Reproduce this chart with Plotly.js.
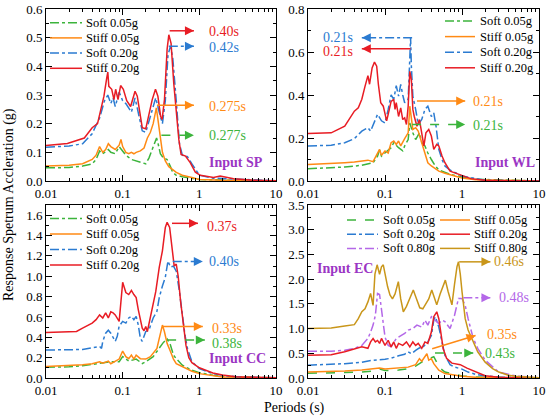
<!DOCTYPE html>
<html><head><meta charset="utf-8">
<script src="https://cdn.plot.ly/plotly-3.0.1.min.js"></script>
<style>html,body{margin:0;padding:0;background:#fff}#chart{width:550px;height:419px}</style>
</head><body><div id="chart"></div>
<script>
// ---------------- Input SP ----------------
const SP_T_soft005 = [0.01,0.02,0.03,0.04,0.045,0.05,0.055,0.065,0.07,0.08,0.09,0.1,0.11,0.13,0.15,0.18,0.2,0.22,0.25,0.277,0.29,0.31,0.34,0.38,0.42,0.45,0.5,0.6,1,10];
const SP_Sa_soft005 = [0.046,0.047,0.052,0.06,0.075,0.105,0.095,0.11,0.10,0.095,0.12,0.105,0.09,0.075,0.07,0.065,0.06,0.08,0.12,0.15,0.13,0.095,0.08,0.075,0.05,0.03,0.02,0.015,0.005,0];
const SP_T_stiff005 = [0.01,0.02,0.03,0.04,0.045,0.05,0.055,0.06,0.065,0.07,0.08,0.09,0.095,0.1,0.11,0.12,0.13,0.14,0.15,0.17,0.19,0.21,0.23,0.25,0.275,0.29,0.31,0.33,0.36,0.4,0.5,0.6,0.8,1,2,10];
const SP_Sa_stiff005 = [0.052,0.055,0.06,0.075,0.09,0.12,0.10,0.11,0.13,0.12,0.11,0.125,0.145,0.12,0.10,0.095,0.10,0.095,0.10,0.105,0.115,0.15,0.17,0.20,0.255,0.21,0.15,0.10,0.07,0.05,0.03,0.02,0.012,0.005,0.003,0];
const SP_T_soft020 = [0.01,0.02,0.03,0.04,0.05,0.058,0.064,0.07,0.075,0.08,0.09,0.1,0.11,0.13,0.145,0.16,0.18,0.2,0.22,0.25,0.27,0.3,0.33,0.36,0.39,0.42,0.45,0.5,0.55,0.6,0.7,0.8,1.0,1.5,3,10];
const SP_Sa_soft020 = [0.118,0.122,0.13,0.165,0.22,0.28,0.30,0.27,0.29,0.26,0.31,0.28,0.27,0.24,0.29,0.24,0.175,0.17,0.21,0.26,0.29,0.24,0.20,0.28,0.44,0.47,0.43,0.28,0.13,0.09,0.085,0.06,0.02,0.01,0.006,0.001];
const SP_T_stiff020 = [0.01,0.019,0.0316,0.04,0.047,0.052,0.057,0.062,0.064,0.066,0.072,0.077,0.081,0.087,0.094,0.102,0.113,0.127,0.145,0.155,0.168,0.18,0.2,0.22,0.243,0.268,0.288,0.312,0.327,0.351,0.38,0.40,0.428,0.464,0.50,0.54,0.578,0.66,0.76,0.887,1.03,1.53,1.87,2.8,5.1,10];
const SP_Sa_stiff020 = [0.124,0.131,0.15,0.186,0.2,0.25,0.296,0.36,0.38,0.33,0.32,0.284,0.32,0.284,0.333,0.32,0.28,0.26,0.313,0.296,0.238,0.186,0.182,0.238,0.284,0.32,0.296,0.226,0.215,0.284,0.46,0.51,0.48,0.34,0.25,0.145,0.093,0.087,0.064,0.031,0.02,0.012,0.017,0.008,0.003,0.001];

// ---------------- Input WL ----------------
const WL_T_soft005 = [0.01,0.02,0.03,0.05,0.07,0.08,0.085,0.09,0.1,0.12,0.13,0.15,0.17,0.18,0.2,0.21,0.23,0.25,0.28,0.3,0.33,0.36,0.4,0.45,0.5,0.7,1,1.5,10];
const WL_Sa_soft005 = [0.057,0.06,0.065,0.073,0.085,0.116,0.144,0.116,0.13,0.155,0.178,0.155,0.14,0.163,0.193,0.27,0.224,0.193,0.224,0.178,0.163,0.13,0.10,0.07,0.051,0.031,0.019,0.008,0];
const WL_T_stiff005 = [0.01,0.02,0.03,0.04,0.05,0.06,0.07,0.08,0.085,0.09,0.1,0.11,0.12,0.13,0.14,0.15,0.16,0.18,0.2,0.21,0.22,0.23,0.25,0.27,0.3,0.33,0.36,0.4,0.5,0.6,0.8,1,1.5,10];
const WL_Sa_stiff005 = [0.077,0.08,0.085,0.088,0.094,0.097,0.09,0.13,0.147,0.12,0.14,0.13,0.178,0.186,0.17,0.186,0.163,0.197,0.224,0.348,0.294,0.24,0.248,0.232,0.178,0.13,0.085,0.07,0.046,0.036,0.023,0.014,0.006,0];
const WL_T_soft020 = [0.01,0.02,0.03,0.04,0.05,0.06,0.065,0.07,0.08,0.09,0.1,0.11,0.12,0.13,0.14,0.15,0.16,0.17,0.18,0.2,0.21,0.215,0.22,0.23,0.25,0.27,0.3,0.33,0.36,0.4,0.43,0.46,0.5,0.55,0.6,0.7,1,2,10];
const WL_Sa_soft020 = [0.163,0.166,0.178,0.197,0.232,0.248,0.232,0.263,0.31,0.28,0.27,0.333,0.40,0.38,0.444,0.395,0.449,0.40,0.364,0.38,0.64,0.666,0.534,0.395,0.333,0.263,0.286,0.333,0.348,0.30,0.317,0.255,0.147,0.10,0.07,0.051,0.023,0.003,0];
const WL_T_stiff020 = [0.01,0.02,0.03,0.04,0.045,0.05,0.055,0.06,0.063,0.068,0.073,0.078,0.082,0.088,0.095,0.1,0.105,0.11,0.12,0.13,0.135,0.14,0.15,0.16,0.17,0.18,0.19,0.2,0.21,0.22,0.23,0.24,0.26,0.28,0.3,0.32,0.34,0.37,0.4,0.43,0.47,0.5,0.55,0.6,0.7,0.8,1.0,1.3,2,10];
const WL_Sa_stiff020 = [0.221,0.224,0.255,0.325,0.34,0.38,0.44,0.49,0.45,0.526,0.553,0.534,0.45,0.364,0.348,0.31,0.28,0.31,0.37,0.38,0.333,0.364,0.30,0.34,0.286,0.294,0.263,0.348,0.51,0.47,0.333,0.30,0.255,0.286,0.224,0.163,0.224,0.24,0.209,0.147,0.17,0.163,0.116,0.085,0.046,0.039,0.026,0.011,0.003,0];

// ---------------- Input CC ----------------
const CC_T_soft005 = [0.01,0.02,0.03,0.05,0.07,0.09,0.1,0.12,0.15,0.18,0.2,0.25,0.3,0.34,0.38,0.42,0.46,0.5,0.6,0.8,1,1.5,2,10];
const CC_Sa_soft005 = [0.106,0.11,0.12,0.14,0.16,0.16,0.21,0.166,0.186,0.142,0.16,0.21,0.29,0.35,0.384,0.325,0.225,0.19,0.126,0.076,0.053,0.026,0.016,0.001];
const CC_T_stiff005 = [0.01,0.02,0.03,0.04,0.05,0.055,0.065,0.07,0.08,0.09,0.1,0.11,0.12,0.13,0.14,0.15,0.17,0.2,0.23,0.26,0.28,0.3,0.33,0.35,0.38,0.42,0.46,0.5,0.6,0.8,1,1.5,2,10];
const CC_Sa_stiff005 = [0.113,0.12,0.13,0.14,0.16,0.146,0.166,0.14,0.166,0.186,0.265,0.21,0.19,0.225,0.186,0.225,0.19,0.186,0.21,0.26,0.29,0.39,0.52,0.457,0.34,0.26,0.186,0.142,0.11,0.066,0.043,0.02,0.01,0.001];
const CC_T_soft020 = [0.01,0.02,0.03,0.04,0.05,0.053,0.055,0.06,0.065,0.07,0.075,0.08,0.085,0.09,0.1,0.11,0.12,0.13,0.14,0.15,0.16,0.17,0.18,0.2,0.22,0.25,0.28,0.3,0.33,0.36,0.39,0.42,0.46,0.5,0.55,0.6,0.65,0.7,0.8,1,1.5,2,3,10];
const CC_Sa_soft020 = [0.275,0.275,0.28,0.298,0.31,0.29,0.36,0.44,0.47,0.44,0.39,0.36,0.41,0.51,0.556,0.54,0.59,0.606,0.573,0.606,0.52,0.39,0.36,0.457,0.47,0.59,0.656,0.79,0.904,0.99,1.15,1.09,1.10,1.05,0.85,0.6,0.42,0.29,0.16,0.093,0.043,0.026,0.013,0.002];
const CC_T_stiff020 = [0.01,0.02,0.025,0.03,0.04,0.045,0.05,0.055,0.06,0.065,0.07,0.075,0.08,0.09,0.095,0.1,0.105,0.11,0.12,0.13,0.14,0.15,0.16,0.17,0.18,0.19,0.2,0.21,0.23,0.25,0.27,0.3,0.33,0.36,0.38,0.41,0.44,0.47,0.5,0.53,0.57,0.62,0.67,0.73,0.8,1,1.5,2,3,5,10];
const CC_Sa_stiff020 = [0.447,0.457,0.457,0.49,0.54,0.573,0.62,0.59,0.64,0.59,0.65,0.64,0.62,0.556,0.72,0.94,0.89,0.84,0.82,0.86,0.82,0.79,0.67,0.573,0.49,0.464,0.507,0.457,0.606,0.755,0.848,1.086,1.25,1.48,1.53,1.48,1.25,1.1,1.12,1.0,0.75,0.5,0.32,0.2,0.15,0.1,0.05,0.03,0.013,0.007,0.002];

// ---------------- Input EC ----------------
const EC_T_soft005 = [0.01,0.02,0.03,0.05,0.07,0.085,0.1,0.15,0.2,0.25,0.3,0.35,0.4,0.43,0.47,0.5,0.6,0.8,1,1.5,10];
const EC_Sa_soft005 = [0.095,0.1,0.11,0.12,0.14,0.18,0.15,0.16,0.19,0.24,0.32,0.38,0.41,0.43,0.32,0.22,0.12,0.068,0.04,0.02,0.001];
const EC_T_stiff005 = [0.01,0.02,0.03,0.05,0.07,0.085,0.1,0.12,0.15,0.2,0.25,0.28,0.3,0.33,0.35,0.37,0.4,0.43,0.47,0.5,0.6,0.8,1,1.5,10];
const EC_Sa_stiff005 = [0.12,0.13,0.14,0.16,0.18,0.2,0.18,0.19,0.2,0.22,0.27,0.39,0.34,0.43,0.49,0.36,0.39,0.29,0.22,0.16,0.09,0.054,0.034,0.014,0.001];
const EC_T_soft020 = [0.01,0.02,0.03,0.05,0.07,0.1,0.12,0.15,0.18,0.2,0.22,0.25,0.28,0.3,0.33,0.36,0.4,0.43,0.45,0.5,0.55,0.6,0.7,0.8,1.0,1.2,1.5,2,3,10];
const EC_Sa_soft020 = [0.26,0.27,0.29,0.32,0.36,0.38,0.4,0.45,0.48,0.53,0.49,0.56,0.61,0.6,0.66,0.73,0.86,1.17,1.24,1.03,0.73,0.46,0.27,0.22,0.18,0.12,0.074,0.04,0.02,0.002];
const EC_T_stiff020 = [0.01,0.02,0.03,0.04,0.05,0.06,0.065,0.07,0.075,0.08,0.085,0.09,0.1,0.11,0.12,0.13,0.14,0.15,0.17,0.19,0.21,0.23,0.25,0.27,0.3,0.33,0.36,0.4,0.43,0.47,0.5,0.57,0.63,0.74,0.95,1.16,1.6,2,3,10];
const EC_Sa_stiff020 = [0.46,0.47,0.53,0.58,0.63,0.6,0.73,0.8,0.73,0.76,0.7,0.8,0.66,0.76,0.63,0.73,0.6,0.7,0.66,0.73,0.63,0.73,0.66,0.7,0.6,0.73,0.7,0.93,1.24,1.34,1.2,0.59,0.4,0.3,0.27,0.2,0.1,0.045,0.014,0.002];
const EC_T_soft080 = [0.01,0.02,0.03,0.04,0.05,0.06,0.065,0.07,0.075,0.08,0.085,0.09,0.1,0.11,0.12,0.14,0.16,0.18,0.2,0.23,0.26,0.3,0.33,0.36,0.4,0.45,0.5,0.55,0.6,0.7,0.8,0.9,1.0,1.1,1.2,1.4,1.6,2,3,5,10];
const EC_Sa_soft080 = [0.54,0.54,0.56,0.6,0.66,0.8,0.93,1.07,1.27,1.71,1.69,1.34,0.83,0.66,0.63,0.8,0.86,0.9,0.97,1.0,1.07,1.03,1.17,1.07,1.24,1.17,1.1,1.17,1.14,1.0,1.27,1.61,1.61,1.47,1.2,0.8,0.6,0.36,0.12,0.04,0.005];
const EC_T_stiff080 = [0.01,0.02,0.03,0.04,0.045,0.05,0.055,0.06,0.065,0.07,0.074,0.079,0.085,0.09,0.095,0.1,0.108,0.116,0.125,0.135,0.149,0.16,0.173,0.19,0.21,0.233,0.25,0.283,0.31,0.34,0.37,0.405,0.44,0.47,0.52,0.56,0.608,0.66,0.74,0.8,0.86,0.9,0.95,1.0,1.05,1.1,1.2,1.4,1.6,2,2.5,3,4,5,10];
const EC_Sa_stiff080 = [1.0,1.01,1.05,1.08,1.2,1.34,1.4,1.54,1.71,1.47,2.1,2.29,2.1,2.25,2.29,2.1,1.85,1.68,1.6,1.7,1.95,1.6,1.34,1.45,1.6,1.78,1.65,1.42,1.4,1.5,1.6,1.78,1.6,1.48,1.7,1.85,1.98,1.75,1.48,1.9,2.25,2.35,2.1,1.75,1.45,1.2,0.97,0.73,0.53,0.32,0.19,0.12,0.054,0.034,0.005];

const xTickVals = [0.01,0.1,1,10];
const xTickText = ['0.01','0.1','1','10'];

// ---------------- styling ----------------
const C = {g:'#3cb43c', o:'#ff8a14', b:'#2b7bd1', r:'#e81c24', p:'#b468e8', y:'#c9961a', lab:'#9b36c4'};
const FONT = 'Liberation Serif';

const minorLog = [];
for (let e = -2; e < 1; e++) for (let k = 2; k <= 9; k++) minorLog.push(k * Math.pow(10, e));

function tr(T, Sa, name, color, dash, xa, ya, leg) {
  return {x: T, y: Sa, name: name, type: 'scatter', mode: 'lines', xaxis: xa, yaxis: ya,
    meta: leg, showlegend: false, line: {color: color, width: 1.5, dash: dash}, hoverinfo: 'skip'};
}
const data = [
  tr(SP_T_soft005, SP_Sa_soft005, 'Soft 0.05g', C.g, 'dashdot', 'x', 'y', 'SP'),
  tr(SP_T_stiff005, SP_Sa_stiff005, 'Stiff 0.05g', C.o, 'solid', 'x', 'y', 'SP'),
  tr(SP_T_soft020, SP_Sa_soft020, 'Soft 0.20g', C.b, 'dashdot', 'x', 'y', 'SP'),
  tr(SP_T_stiff020, SP_Sa_stiff020, 'Stiff 0.20g', C.r, 'solid', 'x', 'y', 'SP'),
  tr(WL_T_soft005, WL_Sa_soft005, 'Soft 0.05g', C.g, 'dashdot', 'x2', 'y2', 'WL'),
  tr(WL_T_stiff005, WL_Sa_stiff005, 'Stiff 0.05g', C.o, 'solid', 'x2', 'y2', 'WL'),
  tr(WL_T_soft020, WL_Sa_soft020, 'Soft 0.20g', C.b, 'dashdot', 'x2', 'y2', 'WL'),
  tr(WL_T_stiff020, WL_Sa_stiff020, 'Stiff 0.20g', C.r, 'solid', 'x2', 'y2', 'WL'),
  tr(CC_T_soft005, CC_Sa_soft005, 'Soft 0.05g', C.g, 'dashdot', 'x3', 'y3', 'CC'),
  tr(CC_T_stiff005, CC_Sa_stiff005, 'Stiff 0.05g', C.o, 'solid', 'x3', 'y3', 'CC'),
  tr(CC_T_soft020, CC_Sa_soft020, 'Soft 0.20g', C.b, 'dashdot', 'x3', 'y3', 'CC'),
  tr(CC_T_stiff020, CC_Sa_stiff020, 'Stiff 0.20g', C.r, 'solid', 'x3', 'y3', 'CC'),
  tr(EC_T_soft005, EC_Sa_soft005, 'Soft 0.05g', C.g, 'dash', 'x4', 'y4', 'EC1'),
  tr(EC_T_soft020, EC_Sa_soft020, 'Soft 0.20g', C.b, 'dashdot', 'x4', 'y4', 'EC1'),
  tr(EC_T_soft080, EC_Sa_soft080, 'Soft 0.80g', C.p, 'dashdot', 'x4', 'y4', 'EC1'),
  tr(EC_T_stiff005, EC_Sa_stiff005, 'Stiff 0.05g', C.o, 'solid', 'x4', 'y4', 'EC2'),
  tr(EC_T_stiff020, EC_Sa_stiff020, 'Stiff 0.20g', C.r, 'solid', 'x4', 'y4', 'EC2'),
  tr(EC_T_stiff080, EC_Sa_stiff080, 'Stiff 0.80g', C.y, 'solid', 'x4', 'y4', 'EC2')
];

const W = 550, H = 419;
const px = v => v / W, py = v => 1 - v / H;

function xax(dom, anchor) {
  return {type: 'log', range: [-2, 1], domain: dom, anchor: anchor,
    tickvals: xTickVals, ticktext: xTickText, ticks: 'inside', ticklen: 6, tickwidth: 1, tickcolor: '#000',
    showline: true, linecolor: '#000', linewidth: 1, mirror: 'ticks', showgrid: false, zeroline: false,
    tickfont: {family: FONT, size: 13, color: '#000'},
    minor: {tickvals: minorLog, ticks: 'inside', ticklen: 3, tickwidth: 1, tickcolor: '#000', showgrid: false}};
}
function yax(dom, anchor, top, dt) {
  return {range: [0, top], domain: dom, anchor: anchor, dtick: dt, tick0: 0, tickformat: '.1f',
    ticks: 'inside', ticklen: 6, tickwidth: 1, tickcolor: '#000',
    showline: true, linecolor: '#000', linewidth: 1, mirror: 'ticks', showgrid: false, zeroline: false,
    tickfont: {family: FONT, size: 13, color: '#000'},
    minor: {dtick: dt / 2, ticks: 'inside', ticklen: 3, tickwidth: 1, tickcolor: '#000', showgrid: false}};
}
const xL = [px(46), px(276)], xR = [px(308), px(539)];
const yT = [py(181), py(9)], yB = [py(378), py(205)];

const shapes = [], annotations = [];

// per-panel legend boxes (pixel placement of the key)
const legendBox = {
  SP:  {x0: 50, x1: 82, tx: 84, y0: 22.7, dy: 15.2},
  WL:  {x0: 445, x1: 475, tx: 478, y0: 21, dy: 15.6},
  CC:  {x0: 50, x1: 82, tx: 84, y0: 218.5, dy: 15.5},
  EC1: {x0: 347, x1: 378, tx: 381, y0: 220, dy: 14.2},
  EC2: {x0: 440, x1: 470, tx: 472, y0: 220, dy: 14.2}
};
const legendCount = {};
data.forEach(t => {
  const b = legendBox[t.meta];
  const i = legendCount[t.meta] = (legendCount[t.meta] || 0);
  legendCount[t.meta]++;
  const yy = b.y0 + i * b.dy;
  shapes.push({type: 'line', xref: 'paper', yref: 'paper', x0: px(b.x0), x1: px(b.x1), y0: py(yy), y1: py(yy),
    line: {color: t.line.color, width: 1.5, dash: t.line.dash}});
  annotations.push({xref: 'paper', yref: 'paper', x: px(b.tx), y: py(yy), text: t.name, showarrow: false,
    xanchor: 'left', yanchor: 'middle', font: {family: FONT, size: 12.5, color: '#000'}});
});

// callouts: [xaxis, yaxis, T start, y start, T end, y end, color, dash, label, label T, label y, anchor]
const callouts = [
  ['x','y', 0.41,0.524, 0.85,0.524, C.r,'solid','0.40s', 1.26,0.52,'left'],
  ['x','y', 0.40,0.47, 0.85,0.47, C.b,'dashdot','0.42s', 1.26,0.465,'left'],
  ['x','y', 0.28,0.264, 0.85,0.264, C.o,'solid','0.275s', 1.26,0.26,'left'],
  ['x','y', 0.32,0.16, 0.85,0.16, C.g,'dash','0.277s', 1.26,0.157,'left'],
  ['x2','y2', 0.225,0.666, 0.05,0.666, C.b,'dashdot','0.21s', 0.041,0.668,'right'],
  ['x2','y2', 0.215,0.615, 0.05,0.615, C.r,'solid','0.21s', 0.041,0.602,'right'],
  ['x2','y2', 0.26,0.372, 1.1,0.372, C.o,'solid','0.21s', 1.3,0.37,'left'],
  ['x2','y2', 0.225,0.263, 1.1,0.263, C.g,'dash','0.21s', 1.3,0.26,'left'],
  ['x3','y3', 0.44,1.52, 0.96,1.52, C.r,'solid','0.37s', 1.18,1.485,'left'],
  ['x3','y3', 0.45,1.146, 1.11,1.146, C.b,'dashdot','0.40s', 1.25,1.14,'left'],
  ['x3','y3', 0.33,0.505, 1.11,0.505, C.o,'solid','0.33s', 1.37,0.49,'left'],
  ['x3','y3', 0.38,0.373, 1.18,0.373, C.g,'dash','0.38s', 1.37,0.335,'left'],
  ['x4','y4', 0.92,2.35, 2.34,2.35, C.y,'solid','0.46s', 2.48,2.35,'left'],
  ['x4','y4', 1.04,1.625, 2.34,1.625, C.p,'dashdot','0.48s', 2.88,1.62,'left'],
  ['x4','y4', 0.41,0.59, 1.5,0.86, C.o,'solid','0.35s', 2.0,0.88,'left'],
  ['x4','y4', 0.446,0.506, 1.4,0.506, C.g,'dash','0.43s', 1.89,0.5,'left']
];

callouts.forEach(c => {
  const [xa, ya, t0, y0, t1, y1, col, dash, lab, lt, ly, anc] = c;
  shapes.push({type: 'line', xref: xa, yref: ya, x0: t0, y0: y0, x1: t1, y1: y1,
    line: {color: col, width: 1.5, dash: dash}});
  let ax = t1 > t0 ? -8 : 8, ay = 0;
  if (y1 !== y0) { ax = -7.6; ay = 2.4; }
  annotations.push({xref: xa, yref: ya, x: Math.log10(t1), y: y1, ax: ax, ay: ay, text: '',
    showarrow: true, arrowhead: 2, arrowsize: 1.2, arrowwidth: 1.5, arrowcolor: col, standoff: 0});
  annotations.push({xref: xa, yref: ya, x: Math.log10(lt), y: ly, text: lab, showarrow: false,
    xanchor: anc, yanchor: 'middle', font: {family: FONT, size: 14, color: col}});
});
[['Input SP', 207, 162], ['Input WL', 473, 162], ['Input CC', 207, 358], ['Input EC', 315, 268]].forEach(a => {
  annotations.push({xref: 'paper', yref: 'paper', x: px(a[1]), y: py(a[2]), text: '<b>' + a[0] + '</b>',
    showarrow: false, xanchor: 'left', yanchor: 'middle', font: {family: FONT, size: 14, color: C.lab}});
});
annotations.push({xref: 'paper', yref: 'paper', x: px(9), y: py(205), text: 'Response Spetrum Accleration (g)',
  textangle: -90, showarrow: false, xanchor: 'center', yanchor: 'middle', font: {family: FONT, size: 14, color: '#000'}});
annotations.push({xref: 'paper', yref: 'paper', x: px(294), y: py(408), text: 'Periods (s)',
  showarrow: false, xanchor: 'center', yanchor: 'middle', font: {family: FONT, size: 14, color: '#000'}});

const layout = {
  width: W, height: H, margin: {l: 0, r: 0, t: 0, b: 0}, paper_bgcolor: '#fff', plot_bgcolor: '#fff',
  font: {family: FONT, size: 13, color: '#000'}, showlegend: false,
  xaxis: xax(xL, 'y'), yaxis: yax(yT, 'x', 0.6, 0.1),
  xaxis2: xax(xR, 'y2'), yaxis2: yax(yT, 'x2', 0.8, 0.2),
  xaxis3: xax(xL, 'y3'), yaxis3: yax(yB, 'x3', 1.7, 0.2),
  xaxis4: xax(xR, 'y4'), yaxis4: yax(yB, 'x4', 3.5, 0.5),
  shapes: shapes, annotations: annotations
};
Plotly.newPlot('chart', data, layout, {staticPlot: true, displayModeBar: false});
</script></body></html>
